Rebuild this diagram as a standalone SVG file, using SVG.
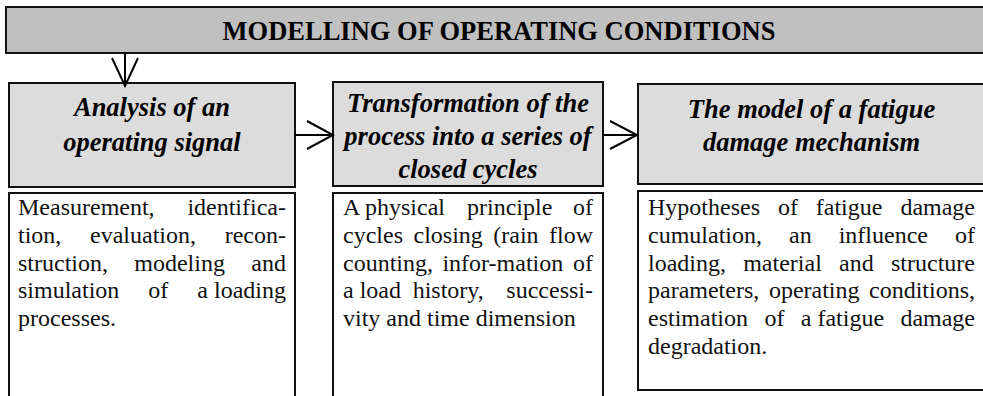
<svg xmlns="http://www.w3.org/2000/svg" width="983" height="396" viewBox="0 0 983 396">
<style>
.hd{fill:#c0c0c0;stroke:#111;stroke-width:2}
.bx{fill:#dcdcdc;stroke:#111;stroke-width:2}
.ds{fill:#fff;stroke:#111;stroke-width:2}
.title{font-family:"Liberation Serif","Times New Roman",serif;font-weight:bold;font-size:26.5px;fill:#000;text-anchor:middle}
.h{font-family:"Liberation Serif","Times New Roman",serif;font-weight:bold;font-style:italic;font-size:26.5px;fill:#000;text-anchor:middle}
.b{font-family:"Liberation Serif","Times New Roman",serif;font-size:24px;fill:#111}
.e{text-anchor:end}
.con{fill:none;stroke:#000;stroke-width:2}
</style>
<rect width="983" height="396" fill="#fff"/>
<g id="title">
<rect class="hd" x="6" y="7" width="990" height="46"/>
<text class="title" x="499" y="40">MODELLING OF OPERATING CONDITIONS</text>
</g>
<g id="analysis">
<rect class="bx" x="9" y="83" width="286" height="104"/>
<text class="h" x="152" y="116">Analysis of an</text>
<text class="h" x="152" y="151">operating signal</text>
</g>
<g id="transformation">
<rect class="bx" x="333" y="82" width="270" height="104"/>
<text class="h" x="468" y="112">Transformation of the</text>
<text class="h" x="468" y="145">process into a series of</text>
<text class="h" x="468" y="178">closed cycles</text>
</g>
<g id="model">
<rect class="bx" x="638" y="84" width="360" height="100"/>
<text class="h" x="811.5" y="118">The model of a fatigue</text>
<text class="h" x="811.5" y="151">damage mechanism</text>
</g>
<g id="analysis-desc">
<rect class="ds" x="9" y="193" width="286" height="210"/>
<text class="b" x="18" y="215">Measurement,</text><text class="b e" x="286" y="215">identifica-</text>
<text class="b" x="18" y="243">tion,</text><text class="b" x="90" y="243">evaluation,</text><text class="b e" x="286" y="243">recon-</text>
<text class="b" x="18" y="271">struction,</text><text class="b" x="134.3" y="271">modeling</text><text class="b e" x="286" y="271">and</text>
<text class="b" x="18" y="298">simulation</text><text class="b" x="148.3" y="298">of</text><text class="b e" x="286" y="298">a loading</text>
<text class="b" x="18" y="326">processes.</text>
</g>
<g id="transformation-desc">
<rect class="ds" x="333" y="193" width="270" height="210"/>
<text class="b" x="343" y="215">A physical</text><text class="b" x="467" y="215">principle</text><text class="b e" x="593" y="215">of</text>
<text class="b" x="343" y="243">cycles</text><text class="b" x="413.5" y="243">closing</text><text class="b" x="493.3" y="243">(rain</text><text class="b e" x="593" y="243">flow</text>
<text class="b" x="343" y="271">counting,</text><text class="b" x="442.4" y="271">infor-mation</text><text class="b e" x="593" y="271">of</text>
<text class="b" x="343" y="298">a load</text><text class="b" x="412.7" y="298">history,</text><text class="b e" x="593" y="298">successi-</text>
<text class="b" x="343" y="326">vity and time dimension</text>
</g>
<g id="model-desc">
<rect class="ds" x="638" y="191" width="360" height="199"/>
<text class="b" x="648" y="215">Hypotheses</text><text class="b" x="777.9" y="215">of</text><text class="b" x="815.8" y="215">fatigue</text><text class="b e" x="975" y="215">damage</text>
<text class="b" x="648" y="243">cumulation,</text><text class="b" x="789" y="243">an</text><text class="b" x="838.7" y="243">influence</text><text class="b e" x="975" y="243">of</text>
<text class="b" x="648" y="271">loading,</text><text class="b" x="743.2" y="271">material</text><text class="b" x="839" y="271">and</text><text class="b e" x="975" y="271">structure</text>
<text class="b" x="648" y="298">parameters,</text><text class="b" x="768.9" y="298">operating</text><text class="b e" x="975" y="298">conditions,</text>
<text class="b" x="648" y="326">estimation</text><text class="b" x="764.4" y="326">of</text><text class="b" x="800.8" y="326">a fatigue</text><text class="b e" x="975" y="326">damage</text>
<text class="b" x="648" y="354">degradation.</text>
</g>
<g id="connectors">
<path class="con" d="M125 53 V85 M112 58 L125 86 L138 58"/>
<path class="con" d="M295 135 H332 M307 121 L333 135 L307 149"/>
<path class="con" d="M603 135 H636 M610 121 L637 135 L610 149"/>
</g>
</svg>
